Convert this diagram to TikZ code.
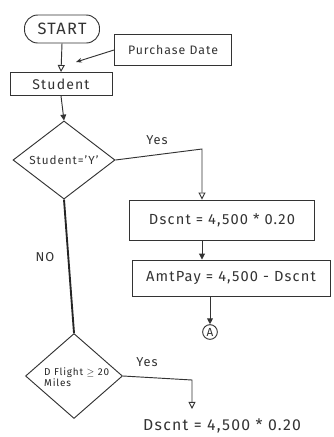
\documentclass[tikz,border=0pt]{standalone}
\usepackage{fontspec}
\setmainfont{Fira Sans}[LetterSpace=8]
\usetikzlibrary{shapes.geometric,arrows.meta,calc}
\begin{document}
\begin{tikzpicture}[x=0.03cm,y=-0.03cm,
  ink/.style={draw=black!80,line width=0.8pt},
  lbl/.style={font=\fontsize{11}{12}\selectfont,text=black!80},
  procbox/.style={ink,rectangle,inner sep=2pt,font=\fontsize{12.5}{14}\selectfont,text=black!80},
  decision/.style={ink,diamond,inner sep=0pt,font=\fontsize{10}{11}\selectfont,text=black!80},
  flow/.style={ink},
  opentip/.style={-{Triangle[open,length=6pt,width=6pt]}},
  solidtip/.style={-{Triangle[length=5pt,width=5pt]}}]
\useasboundingbox (0,0) rectangle (334,437);

% terminal, input and process boxes
\node[ink,rectangle,rounded corners=0.4cm,minimum width=2.25cm,minimum height=0.84cm,
      font=\fontsize{14}{15}\selectfont,text=black!80] (start) at (62,29) {START};
\node[procbox,minimum width=3.06cm,minimum height=0.69cm,font=\fontsize{12}{13}\selectfont] (student) at (61,84) {Student};
\node[procbox,minimum width=3.51cm,minimum height=0.93cm,font=\fontsize{10.5}{12}\selectfont] (pdate) at (173,50) {Purchase Date};
\node[decision,minimum width=3.06cm,minimum height=1.92cm] (d1) at (64,160) {Student='Y'};
\node[procbox,minimum width=5.55cm,minimum height=1.2cm] (calc1) at (222,220) {Dscnt = 4,500 * 0.20};
\node[procbox,minimum width=5.94cm,minimum height=1.08cm] (amt) at (231,278) {AmtPay = 4,500 - Dscnt};
\node[ink,circle,inner sep=0pt,minimum size=0.44cm,font=\fontsize{10}{11}\selectfont,text=black!80] (A) at (210,332) {A};

% second decision: outline drawn as an empty diamond, its condition set on top
\node[decision,minimum width=2.91cm,minimum height=2.55cm] (d2) at (74,376) {};
\node[font=\fontsize{8.5}{9.5}\selectfont,text=black!85,align=left,anchor=north west,inner sep=0pt]
  (d2text) at (44,367) {D Flight $\geq$ 20\\Miles};

\node[lbl,font=\fontsize{13.5}{15}\selectfont,anchor=north west,inner sep=0pt] (calc2) at (143,419) {Dscnt = 4,500 * 0.20};

% branch corners and free ends
\coordinate (pd) at (76,62);
\coordinate (j1) at (202,149);
\coordinate (j2) at (192,380);

% connectors
\draw[flow,opentip] (start.south) -- (student.north);
\draw[flow,-{Stealth[length=5pt,width=4pt]}] (pdate.west) -- (pd);
\draw[flow,solidtip] (student.south) -- (d1.north);
\draw[flow,opentip] (d1.east) -- (j1) -- (j1 |- calc1.north);
\draw[flow,solidtip] (j1 |- calc1.south) -- (j1 |- amt.north);
\draw[flow,solidtip] (A |- amt.south) -- (A.north);
\draw[draw=black!85,line width=1.6pt] (d1.south) -- (d2.north);
\draw[flow,opentip] (d2.east) -- (j2) -- ([yshift=0.3cm]j2 |- calc2.north);

% branch labels
\node[lbl] (yes1) at (157,140) {Yes};
\node[lbl] (no1) at (45,257) {NO};
\node[lbl] (yes2) at (147,362) {Yes};
\end{tikzpicture}
\end{document}
